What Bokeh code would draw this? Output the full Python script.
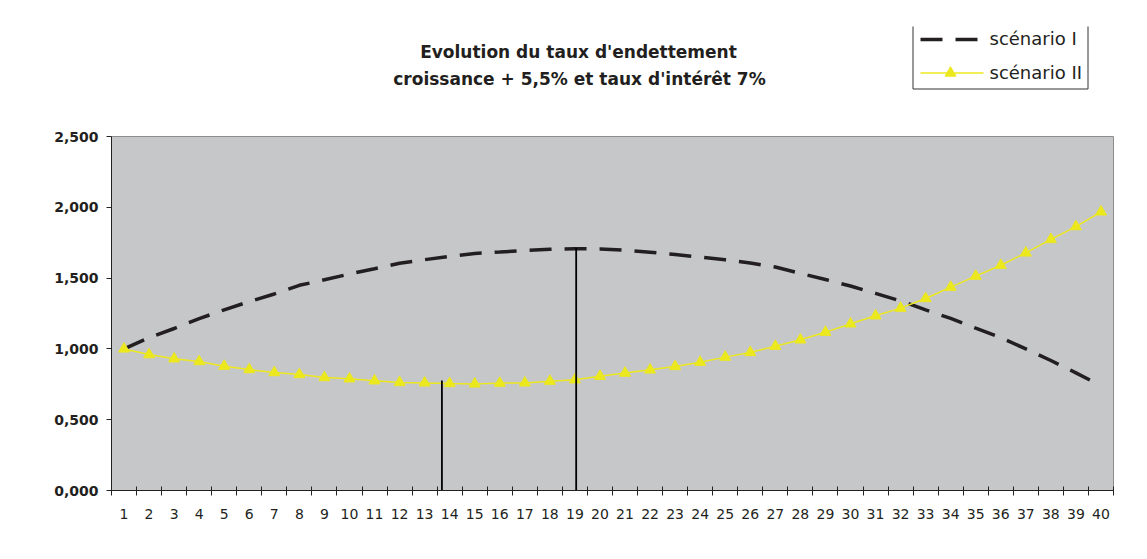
from bokeh.plotting import figure
from bokeh.layouts import column
from bokeh.models import Range1d, FixedTicker, ColumnDataSource
from bokeh.embed import file_html
from bokeh.resources import INLINE
from bokeh.core.properties import value

# ---- data ----
years = list(range(1, 41))
scenario_1 = [1.000, 1.079, 1.144, 1.214, 1.276, 1.334, 1.388, 1.449, 1.488, 1.529,
              1.566, 1.605, 1.630, 1.654, 1.674, 1.684, 1.695, 1.704, 1.708, 1.706,
              1.697, 1.682, 1.667, 1.648, 1.629, 1.607, 1.578, 1.533, 1.490, 1.444,
              1.392, 1.339, 1.276, 1.215, 1.146, 1.080, 1.000, 0.918, 0.831, 0.739]
scenario_2 = [1.000, 0.960, 0.930, 0.911, 0.878, 0.854, 0.833, 0.819, 0.798, 0.789,
              0.775, 0.763, 0.760, 0.756, 0.753, 0.758, 0.760, 0.772, 0.782, 0.807,
              0.829, 0.852, 0.876, 0.906, 0.942, 0.975, 1.019, 1.064, 1.118, 1.177,
              1.234, 1.288, 1.356, 1.436, 1.514, 1.591, 1.678, 1.773, 1.864, 1.968]
y_ticks = [0.0, 0.5, 1.0, 1.5, 2.0, 2.5]
y_tick_labels = ["0,000", "0,500", "1,000", "1,500", "2,000", "2,500"]
x_tick_labels = [str(v) for v in years]
# vertical reference lines (position on category axis, top value)
marker_x = [13.69, 19.05]
marker_top = [0.777, 1.715]
marker_bottom = [-0.015, -0.015]

title_lines = ["Evolution du taux d'endettement", "croissance + 5,5% et taux d'intérêt 7%"]
legend_labels = ["scénario I", "scénario II"]

FONT = "DejaVu Sans"
BLACK = "#231f20"
YELLOW = "#ece81e"
DASH = "22 13"

FRAME_W, BORDER_L, BORDER_R = 1002, 111, 26

# ---------------- header (title + legend), pixel coordinates ----------------
HH = 100
h = figure(frame_width=FRAME_W, frame_height=HH, output_backend="svg", toolbar_location=None,
           x_range=Range1d(BORDER_L, BORDER_L + FRAME_W), y_range=Range1d(HH, 0),
           x_axis_type=None, y_axis_type=None,
           min_border_left=BORDER_L, min_border_right=BORDER_R,
           min_border_top=0, min_border_bottom=0)
h.outline_line_color = None
h.grid.visible = False
h.background_fill_color = "white"
h.border_fill_color = "white"

h.text(x=[578, 579], y=[51, 78], text=title_lines, text_font=value(FONT),
       text_font_style="bold", text_font_size="17px", text_align="center",
       text_baseline="middle", text_color=BLACK)

# legend (drawn by hand: box open at the top, as in the reference)
h.line(x=[912.5, 912.5, 1087.5, 1087.5], y=[26, 88.5, 88.5, 26], line_color="#333333",
       line_width=1)
h.line(x=[920, 977], y=[39, 39], line_color=BLACK, line_width=3.5, line_dash=DASH)
h.line(x=[920, 983], y=[72.5, 72.5], line_color=YELLOW, line_width=1.5)
h.scatter(x=[950], y=[72.5], marker="triangle", size=11, fill_color=YELLOW, line_color=YELLOW)
h.text(x=[989, 989], y=[38, 72], text=legend_labels, text_font=value(FONT),
       text_font_size="18px", text_align="left", text_baseline="middle", text_color=BLACK)

# ---------------- main chart ----------------
p = figure(frame_width=FRAME_W, frame_height=354, output_backend="svg", toolbar_location=None,
           x_range=Range1d(0.5, 40.5), y_range=Range1d(0, 2.5),
           min_border_left=BORDER_L, min_border_top=36, min_border_right=BORDER_R,
           min_border_bottom=61)
p.background_fill_color = "#c6c7c9"
p.border_fill_color = "white"
p.outline_line_color = "#8c8c8c"
p.outline_line_width = 1
p.grid.visible = False

# x axis
p.xaxis.ticker = FixedTicker(ticks=years, minor_ticks=[y - 0.5 for y in years] + [40.5])
p.xaxis.major_label_overrides = {y: s for y, s in zip(years, x_tick_labels)}
p.xaxis.major_tick_in = 0
p.xaxis.major_tick_out = 0
p.xaxis.minor_tick_in = 4
p.xaxis.minor_tick_out = 5
p.xaxis.minor_tick_line_color = "#222222"
p.xaxis.axis_line_color = "#222222"
p.xaxis.major_label_standoff = 13
p.xaxis.major_label_text_font = FONT
p.xaxis.major_label_text_font_size = "14px"
p.xaxis.major_label_text_color = BLACK

# y axis
p.yaxis.ticker = FixedTicker(ticks=y_ticks, minor_ticks=[])
p.yaxis.major_label_overrides = {t: s for t, s in zip(y_ticks, y_tick_labels)}
p.yaxis.major_tick_in = 0
p.yaxis.major_tick_out = 5
p.yaxis.major_tick_line_color = "#222222"
p.yaxis.axis_line_color = "#222222"
p.yaxis.major_label_standoff = 8
p.yaxis.major_label_text_font = FONT
p.yaxis.major_label_text_font_style = "bold"
p.yaxis.major_label_text_font_size = "14px"
p.yaxis.major_label_text_color = BLACK

# series
p.line(years, scenario_1, line_color=BLACK, line_width=3.5, line_dash=DASH)
p.line(years, scenario_2, line_color=YELLOW, line_width=1.5)
p.scatter(years, scenario_2, marker="triangle", size=11, fill_color=YELLOW, line_color=YELLOW)

# vertical reference lines
src = ColumnDataSource(dict(x=marker_x, y0=marker_bottom, y1=marker_top))
p.segment(x0="x", y0="y0", x1="x", y1="y1", source=src, line_color="black", line_width=1.8)

layout = column(h, p, spacing=0)
open("out.html", "w").write(file_html(layout, INLINE))
